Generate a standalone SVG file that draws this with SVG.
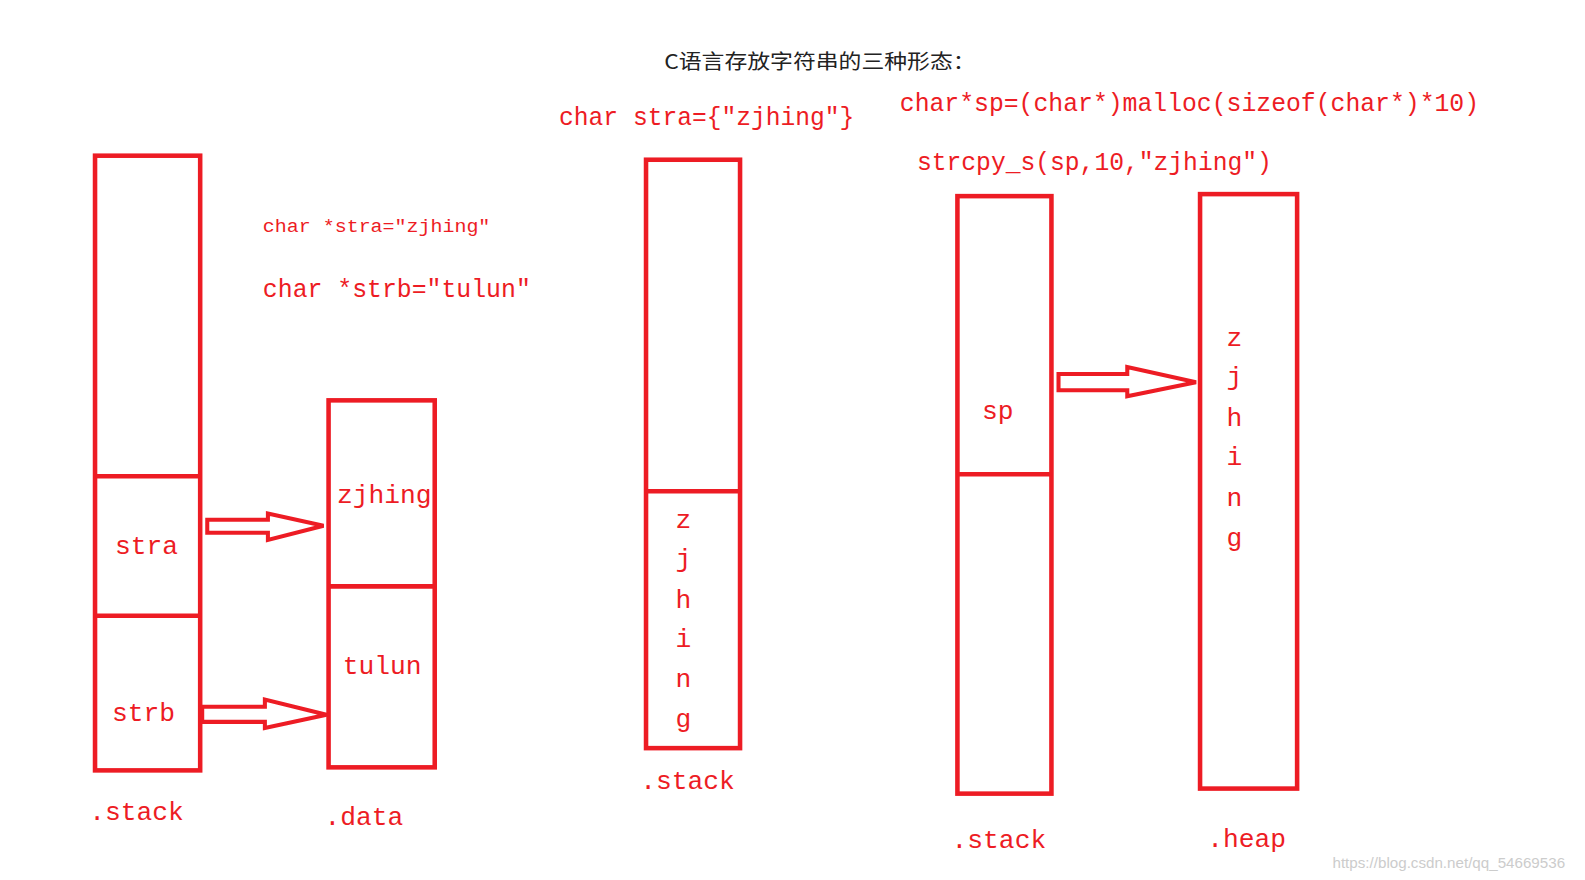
<svg xmlns="http://www.w3.org/2000/svg" width="1585" height="880" viewBox="0 0 1585 880">
<style>
.box{fill:none;stroke:#ed1c24;stroke-width:4.5}
.ln{stroke:#ed1c24;stroke-width:4.5}
.arr{fill:#fff;stroke:#ed1c24;stroke-width:4;stroke-linejoin:miter}
text{font-family:"Liberation Mono","Noto Sans CJK SC",monospace;fill:#ed1c24}
.m{text-anchor:middle;font-size:26px}
</style>
<rect width="1585" height="880" fill="#fff"/>
<g transform="scale(1.011)">
<text x="657" y="68" font-size="20" style="fill:#222;font-family:'Noto Sans CJK SC',sans-serif" textLength="308" lengthAdjust="spacingAndGlyphs">C语言存放字符串的三种形态：</text>
<text x="260" y="229" font-size="18" textLength="225" lengthAdjust="spacingAndGlyphs">char *stra="zjhing"</text>
<text x="260" y="294" font-size="26" textLength="265" lengthAdjust="spacingAndGlyphs">char *strb="tulun"</text>
<text x="553" y="124" font-size="26" textLength="292" lengthAdjust="spacingAndGlyphs">char stra={"zjhing"}</text>
<text x="890" y="110" font-size="26" textLength="573" lengthAdjust="spacingAndGlyphs">char*sp=(char*)malloc(sizeof(char*)*10)</text>
<text x="907" y="168" font-size="26" textLength="351" lengthAdjust="spacingAndGlyphs">strcpy_s(sp,10,"zjhing")</text>
<g id="stack1"><rect class="box" x="94" y="154" width="104" height="608"/><line class="ln" x1="94" y1="471" x2="198" y2="471"/><line class="ln" x1="94" y1="609" x2="198" y2="609"/>
<text class="m" x="145" y="548">stra</text><text class="m" x="142" y="713">strb</text></g>
<g id="data1"><rect class="box" x="325" y="396" width="105" height="363"/><line class="ln" x1="325" y1="580" x2="430" y2="580"/>
<text class="m" x="380" y="498">zjhing</text><text class="m" x="378" y="667">tulun</text></g>
<g id="stack2"><rect class="box" x="639" y="158" width="93" height="582"/><line class="ln" x1="639" y1="486" x2="732" y2="486"/>
<text class="m" x="676" y="522">z</text><text class="m" x="676" y="561">j</text><text class="m" x="676" y="601">h</text><text class="m" x="676" y="640">i</text><text class="m" x="676" y="680">n</text><text class="m" x="676" y="719">g</text></g>
<g id="stack3"><rect class="box" x="947" y="194" width="93" height="591"/><line class="ln" x1="947" y1="469" x2="1040" y2="469"/><text class="m" x="987" y="414">sp</text></g>
<g id="heap"><rect class="box" x="1187" y="192" width="96" height="588"/>
<text class="m" x="1221" y="342">z</text><text class="m" x="1221" y="381">j</text><text class="m" x="1221" y="421">h</text><text class="m" x="1221" y="460">i</text><text class="m" x="1221" y="500">n</text><text class="m" x="1221" y="540">g</text></g>
<g id="labels">
<text class="m" x="135" y="811">.stack</text><text class="m" x="360" y="816">.data</text><text class="m" x="680" y="780">.stack</text><text class="m" x="988" y="839">.stack</text><text class="m" x="1233" y="838">.heap</text>
</g>
<g id="connectors">
<polygon class="arr" points="205,514 265,514 265,508 320,520 265,534 265,527 205,527"/>
<polygon class="arr" points="200,699 262,699 262,692 323,707 262,720 262,714 200,714"/>
<polygon class="arr" points="1047,370 1115,370 1115,363 1183,378 1115,392 1115,386 1047,386"/>
</g>
<text x="1318" y="859" font-size="15" style="fill:#ccc;font-family:'Liberation Sans',sans-serif">https://blog.csdn.net/qq_54669536</text>
</g>
</svg>
